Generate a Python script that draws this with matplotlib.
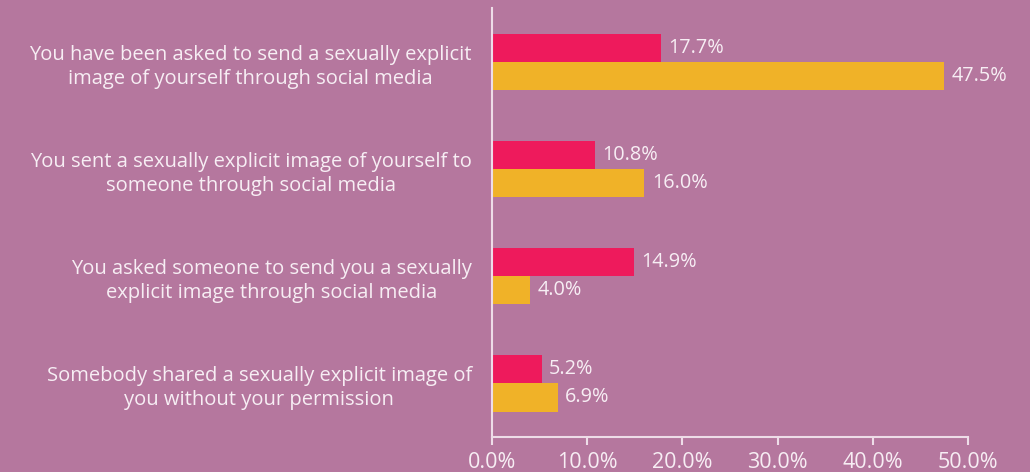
import matplotlib.pyplot as plt
import numpy as np

plt.rcParams['font.family'] = ['Open Sans', 'DejaVu Sans']

categories = [
    "You have been asked to send a sexually explicit\nimage of yourself through social media",
    "You sent a sexually explicit image of yourself to\nsomeone through social media",
    "You asked someone to send you a sexually\nexplicit image through social media",
    "Somebody shared a sexually explicit image of\nyou without your permission",
]
pink_vals = [17.7, 10.8, 14.9, 5.2]
yellow_vals = [47.5, 16.0, 4.0, 6.9]
xticks = [0, 10, 20, 30, 40, 50]

bg = "#b5779e"
pink = "#ee1a5c"
yellow = "#f0b228"
txt = "#f7eef4"
axis_col = "#eedde8"

fig = plt.figure(figsize=(10.3, 4.72), dpi=100, facecolor=bg)
ax = fig.add_axes([492 / 1030, 1 - 437 / 472, 476 / 1030, 429 / 472])
ax.set_facecolor(bg)

y = np.arange(len(categories))
h = 0.262
ax.barh(y - h / 2, pink_vals, height=h, color=pink)
ax.barh(y + h / 2, yellow_vals, height=h, color=yellow)

# value labels next to each bar
for yi, v in zip(y, pink_vals):
    ax.text(v + 0.8, yi - h / 2, f"{v:.1f}%", va="center", ha="left", color=txt, fontsize=14.3)
for yi, v in zip(y, yellow_vals):
    ax.text(v + 0.8, yi + h / 2, f"{v:.1f}%", va="center", ha="left", color=txt, fontsize=14.3)

ax.set_xlim(0, 50)
ax.set_ylim(3.5, -0.505)
ax.set_xticks(xticks)
ax.set_xticklabels([f"{t:.1f}%" for t in xticks], color=txt, fontsize=15.5)
ax.set_yticks(y)
ax.set_yticklabels(categories, color=txt, fontsize=14.5, multialignment="center", linespacing=1.3)

for s in ["top", "right"]:
    ax.spines[s].set_visible(False)
for s in ["left", "bottom"]:
    ax.spines[s].set_color(axis_col)
    ax.spines[s].set_linewidth(1.5)
ax.tick_params(axis="y", length=0, pad=14.5)
ax.tick_params(axis="x", length=6, width=1.5, color=axis_col, pad=5)

fig.savefig("out.png", dpi=100, facecolor=bg)
